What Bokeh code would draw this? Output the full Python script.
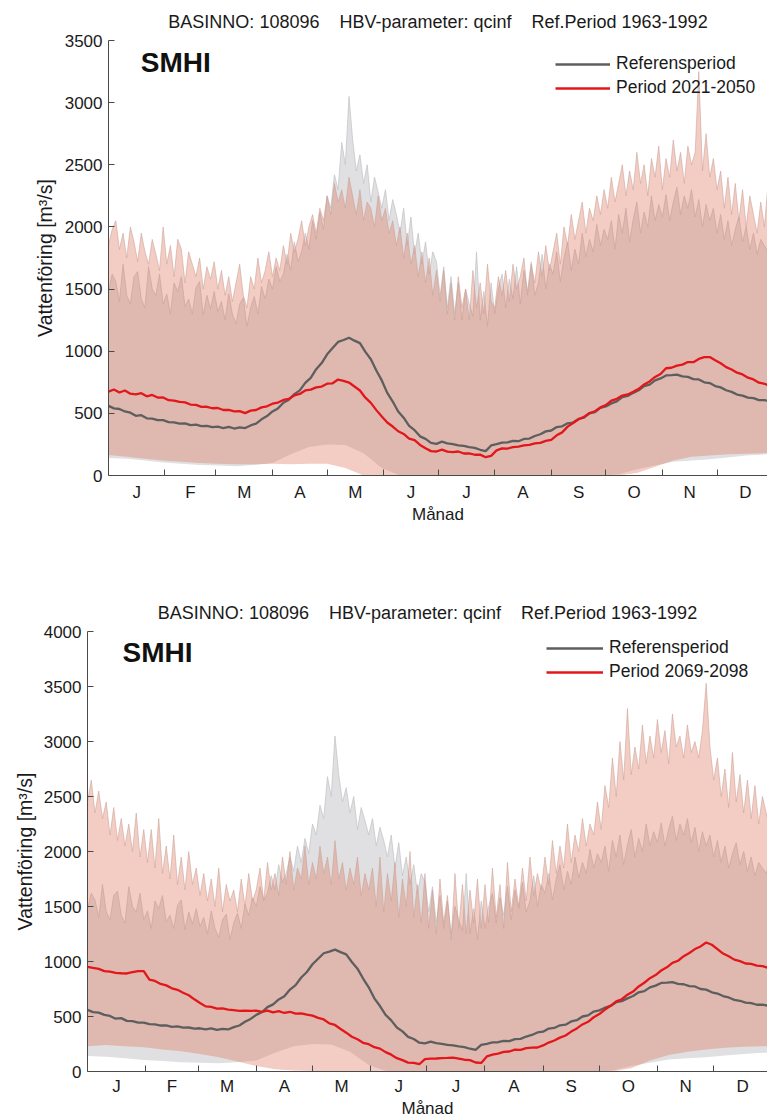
from bokeh.plotting import figure
from bokeh.models import FixedTicker, Legend, LegendItem, Label, Range1d
from bokeh.layouts import column
from bokeh.embed import file_html
from bokeh.resources import INLINE

FONT = "Liberation Sans"

# ---- time axis ---------------------------------------------------------
# period means sampled every third day of the year
day = list(range(0, 364, 3))
# high-flow envelopes sampled every second day
day_hi = list(range(0, 365, 2))
# low-flow envelopes on a coarser grid
day_low = list(range(0, 361, 10)) + [365]

month_mid = [15.5, 45, 74.5, 105, 135.5, 166, 196.5, 227.5, 258, 288.5, 319, 349.5]
month_start = [31, 59, 90, 120, 151, 181, 212, 243, 273, 304, 334]
month_labels = ["J", "F", "M", "A", "M", "J", "J", "A", "S", "O", "N", "D"]

# ---- reference period 1963-1992 (m3/s) -----------------------------------
ref_mean = [
    560, 540, 535, 515, 505, 480, 485, 460, 458, 445,
    445, 430, 428, 418, 420, 405, 410, 398, 400, 390,
    393, 382, 392, 378, 388, 382, 403, 418, 452, 478,
    515, 540, 585, 610, 655, 685, 745, 785, 855, 905,
    975, 1025, 1075, 1090, 1108, 1085, 1065, 995, 935, 845,
    765, 665, 595, 515, 465, 400, 365, 315, 295, 262,
    255, 272, 258, 252, 243, 238, 228, 222, 207, 196,
    242, 252, 264, 266, 278, 276, 294, 297, 318, 332,
    355, 362, 390, 396, 420, 426, 455, 466, 500, 510,
    545, 556, 580, 596, 630, 640, 665, 686, 720, 731,
    765, 781, 805, 808, 812, 797, 793, 776, 773, 750,
    744, 720, 709, 686, 673, 651, 643, 626, 622, 607,
    607, 598,
]
ref_max = [
    # Jan
    1480, 1620, 1560, 1400, 1700, 1450, 1380, 1600, 1640, 1420, 1350, 1680, 1500, 1450, 1620, 1380,
    # Feb
    1460, 1300, 1550, 1480, 1600, 1360, 1420, 1300, 1510, 1560, 1290, 1450, 1340, 1480,
    # Mar
    1320, 1400, 1250, 1460, 1300, 1220, 1380, 1430, 1200, 1350, 1440, 1300, 1520, 1420, 1580,
    # Apr
    1500, 1680, 1560, 1620, 1780, 1650, 1880, 1720, 1800, 1950, 1820, 2050, 1900, 2120, 1980,
    # May
    2250, 2150, 2420, 2300, 2680, 2500, 3050, 2700, 2450, 2580, 2350, 2500, 2200, 2400, 2280, 2150,
    # Jun
    2300, 2050, 2220, 2100, 1950, 2150, 1850, 2080, 1780, 1950, 1700, 1880, 1620, 1800, 1720,
    # Jul
    1450, 1680, 1350, 1600, 1300, 1550, 1250, 1500, 1380, 1280, 1800, 1250, 1480, 1200, 1550,
    # Aug
    1300, 1500, 1620, 1350, 1580, 1420, 1680, 1380, 1650, 1480, 1720, 1450, 1550, 1780, 1500, 1700,
    # Sep
    1620, 1800, 1560, 1750, 1880, 1650, 1820, 1700, 1950, 1760, 1900, 1800, 2020, 1850, 1980,
    # Oct
    1900, 2050, 1820, 2100, 1950, 2150, 1880, 2060, 2200, 1950, 2120, 2000, 2250, 2050, 2180,
    # Nov
    2080, 2260, 2050, 2200, 2320, 2100, 2250, 2150, 2300, 2080, 2220, 2000, 2180, 2050, 2150,
    # Dec
    1950, 2100, 1900, 2050, 1850, 1980, 2080, 1880, 2000, 1820, 1950, 1780, 1900, 1850, 1800, 1920,
]
ref_min = [
    140, 135, 120, 105, 95, 85, 80, 75, 85, 100,
    170, 230, 250, 245, 180, 60, 0, 0, 0, 0,
    0, 0, 0, 0, 0, 0, 0, 0, 10, 50,
    80, 110, 120, 130, 145, 160, 170, 170,
]

# ---- scenario period 2021-2050 ------------------------------------------
p2050_mean = [
    675, 692, 668, 684, 658, 653, 662, 637, 648, 627,
    628, 606, 603, 592, 588, 571, 568, 552, 553, 541,
    543, 527, 528, 516, 518, 502, 522, 527, 548, 557,
    578, 587, 608, 617, 644, 656, 684, 691, 709, 716,
    739, 742, 772, 762, 748, 716, 684, 626, 584, 526,
    474, 426, 394, 356, 334, 296, 284, 246, 219, 196,
    193, 208, 192, 188, 193, 177, 178, 167, 168, 147,
    158, 202, 218, 217, 228, 232, 243, 247, 258, 262,
    278, 287, 323, 347, 393, 422, 453, 472, 503, 517,
    548, 567, 603, 617, 643, 652, 673, 697, 733, 757,
    793, 817, 863, 867, 884, 892, 913, 912, 938, 952,
    953, 927, 903, 872, 853, 827, 813, 787, 773, 747,
    738, 722,
]
p2050_max = [
    # Jan
    1850, 1980, 2050, 1820, 1950, 1750, 2000, 1880, 1720, 1950, 1800, 1700, 1900, 1780, 1650, 2000,
    # Feb
    1700, 1850, 1600, 1900, 1820, 1550, 1800, 1700, 1600, 1750, 1500, 1680, 1580, 1720,
    # Mar
    1500, 1650, 1450, 1600, 1400, 1550, 1700, 1450, 1350, 1600, 1500, 1750, 1550, 1650, 1800,
    # Apr
    1600, 1750, 1650, 1850, 1700, 1950, 1800, 1900, 2050, 1850, 2000, 2100, 1950, 2150, 2050,
    # May
    2250, 2100, 2350, 2200, 2300, 2150, 2400, 2250, 2100, 2300, 2050, 2200, 2150, 2000, 2250, 2050,
    # Jun
    2150, 1950, 2050, 1850, 2000, 1750, 1950, 1700, 1850, 1600, 1800, 1550, 1750, 1450, 1650,
    # Jul
    1400, 1650, 1300, 1550, 1250, 1600, 1350, 1500, 1250, 1650, 1350, 1550, 1300, 1700, 1400,
    # Aug
    1350, 1600, 1450, 1650, 1400, 1700, 1500, 1600, 1750, 1450, 1700, 1550, 1800, 1600, 1850, 1650,
    # Sep
    1800, 1950, 1700, 2000, 1850, 2100, 1900, 2050, 2200, 1950, 2150, 2050, 2250, 2100, 2300,
    # Oct
    2150, 2400, 2200, 2350, 2500, 2250, 2450, 2300, 2600, 2350, 2500, 2250, 2550, 2400, 2650,
    # Nov
    2300, 2550, 2400, 2700, 2450, 2600, 2350, 2650, 2500, 2600, 3250, 2450, 2750, 2400, 2550,
    # Dec
    2300, 2450, 2150, 2400, 2100, 2350, 2050, 2300, 2000, 2250, 2100, 1950, 2200, 2000, 2350, 2050,
]
p2050_min = [
    165, 150, 135, 120, 110, 100, 95, 90, 90, 95,
    90, 95, 95, 60, 0, 0, 0, 0, 0, 0,
    0, 0, 0, 0, 0, 0, 0, 0, 0, 20,
    70, 120, 150, 160, 170, 175, 180, 180,
]

# ---- scenario period 2069-2098 ------------------------------------------
p2098_mean = [
    952, 942, 933, 912, 908, 896, 893, 891, 903, 912,
    913, 836, 823, 796, 783, 756, 743, 716, 693, 656,
    623, 592, 588, 572, 573, 562, 558, 552, 553, 551,
    553, 542, 553, 537, 548, 532, 543, 527, 528, 517,
    508, 487, 473, 437, 423, 386, 353, 316, 293, 261,
    248, 221, 208, 176, 153, 121, 103, 81, 78, 66,
    113, 117, 118, 122, 123, 127, 118, 107, 103, 82,
    78, 137, 153, 162, 178, 182, 198, 197, 213, 217,
    218, 237, 263, 282, 308, 327, 363, 392, 428, 452,
    493, 522, 563, 597, 638, 657, 698, 727, 773, 807,
    848, 877, 918, 947, 988, 1007, 1048, 1077, 1113, 1137,
    1173, 1152, 1113, 1072, 1048, 1017, 1003, 982, 978, 962,
    958, 942,
]
p2098_max = [
    # Jan
    2450, 2650, 2350, 2550, 2300, 2450, 2150, 2400, 2100, 2300, 2050, 2250, 2000, 2350, 1950, 2200,
    # Feb
    1900, 2200, 1850, 2300, 1800, 2050, 1750, 2150, 1700, 1950, 1650, 2000, 1700, 1850,
    # Mar
    1600, 1800, 1550, 1750, 1500, 1850, 1450, 1700, 1550, 1650, 1450, 1750, 1500, 1800, 1550,
    # Apr
    1650, 1850, 1550, 1900, 1650, 1800, 1600, 1950, 1700, 2000, 1650, 1850, 1750, 2050, 1700,
    # May
    1900, 1750, 2050, 1800, 1950, 1700, 2100, 1750, 1900, 1650, 1850, 1700, 1950, 1600, 1800, 1650,
    # Jun
    1850, 1500, 1950, 1450, 1800, 1550, 1900, 1400, 1750, 1500, 2000, 1400, 1700, 1350, 1800,
    # Jul
    1300, 1650, 1250, 1750, 1350, 1600, 1200, 1800, 1300, 1700, 1250, 1650, 1350, 1750, 1300,
    # Aug
    1700, 1350, 1850, 1400, 1700, 1300, 1900, 1450, 1750, 1500, 1850, 1550, 1950, 1600, 1800, 1650,
    # Sep
    1950, 1700, 2100, 1800, 2050, 1850, 2250, 1900, 2150, 2000, 2300, 2050, 2250, 2150, 2450,
    # Oct
    2200, 2600, 2400, 2850, 2500, 3000, 2650, 3300, 2700, 2950, 2750, 3150, 2800, 3050, 2850,
    # Nov
    3200, 2900, 3100, 2800, 3250, 2950, 3050, 2850, 3150, 2900, 3000, 2850, 3100, 3530, 2950,
    # Dec
    2650, 2850, 2500, 2750, 2400, 2900, 2450, 2700, 2350, 2650, 2300, 2600, 2250, 2500, 2350, 2200,
]
p2098_min = [
    230, 240, 230, 220, 200, 185, 160, 130, 90, 50,
    20, 10, 5, 0, 0, 0, 0, 0, 0, 0,
    0, 0, 0, 0, 0, 0, 0, 0, 0, 30,
    100, 150, 180, 200, 215, 225, 230, 230,
]

for s in (ref_mean, p2050_mean, p2098_mean):
    assert len(s) == len(day), len(s)
for s in (ref_max, p2050_max, p2098_max):
    assert len(s) == len(day_hi), len(s)
for s in (ref_min, p2050_min, p2098_min):
    assert len(s) == len(day_low), len(s)

GAP = "\u00a0\u00a0\u00a0 "
TITLE = "BASINNO: 108096" + GAP + "HBV-parameter: qcinf" + GAP + "Ref.Period 1963-1992"

GREY_FILL = "#e0e0e2"
SALMON_FILL = "#dc6f53"
GREY_LINE = "#5e5e5e"
RED_LINE = "#e3161b"
TEXT = "#1a1a1a"
AXIS = "#4a4a4a"


def envelope(hi, lo):
    """Closed polygon: upper envelope forward, lower envelope backward."""
    return day_hi + day_low[::-1], hi + lo[::-1]


def panel(fut_mean, fut_max, fut_min, fut_label, ymax, x_end, border_left,
          height, border_top, border_bottom, legend_xy, glyph_w, logo_xy,
          label_standoff, tick_standoff):
    p = figure(width=767, height=height,
               x_range=Range1d(0, x_end), y_range=Range1d(0, ymax),
               output_backend="svg", toolbar_location=None,
               min_border_left=border_left, min_border_right=0,
               min_border_top=border_top, min_border_bottom=border_bottom)
    if "frame_align" in p.properties():
        p.frame_align = False
    p.background_fill_color = "white"
    p.border_fill_color = "white"
    p.outline_line_color = None
    p.xgrid.visible = False
    p.ygrid.visible = False

    # envelopes
    xs, ys = envelope(ref_max, ref_min)
    p.patch(xs, ys, fill_color=GREY_FILL, line_color=None)
    p.line(day_hi, ref_max, line_color="#c2c2c4", line_width=0.7)
    xs, ys = envelope(fut_max, fut_min)
    p.patch(xs, ys, fill_color=SALMON_FILL, fill_alpha=0.35, line_color=None)
    p.line(day_hi, fut_max, line_color="#c9a096", line_width=0.7, line_alpha=0.8)

    # period means
    r_ref = p.line(day, ref_mean, line_color=GREY_LINE, line_width=2.3)
    r_fut = p.line(day, fut_mean, line_color=RED_LINE, line_width=2.3)

    # title
    p.title.text = TITLE
    p.title.align = "center"
    p.title.text_font = FONT
    p.title.text_font_size = "18px"
    p.title.text_font_style = "normal"
    p.title.text_color = TEXT
    p.title.standoff = 17

    # x axis: month names centred, ticks at month boundaries
    xa = p.xaxis[0]
    xa.ticker = FixedTicker(ticks=month_mid, minor_ticks=month_start)
    xa.major_label_overrides = dict(zip(month_mid, month_labels))
    xa.major_tick_in = 0
    xa.major_tick_out = 0
    xa.minor_tick_in = 6
    xa.minor_tick_out = 0
    xa.minor_tick_line_color = AXIS
    xa.axis_line_color = AXIS
    xa.major_label_text_font = FONT
    xa.major_label_text_font_size = "17px"
    xa.major_label_text_color = TEXT
    xa.major_label_standoff = tick_standoff
    xa.axis_label = "Månad"
    xa.axis_label_text_font = FONT
    xa.axis_label_text_font_size = "17px"
    xa.axis_label_text_font_style = "normal"
    xa.axis_label_text_color = TEXT
    xa.axis_label_standoff = 0

    # y axis
    ya = p.yaxis[0]
    ya.ticker = FixedTicker(ticks=list(range(0, ymax + 1, 500)))
    ya.major_tick_in = 6
    ya.major_tick_out = 0
    ya.major_tick_line_color = AXIS
    ya.minor_tick_in = 0
    ya.minor_tick_out = 0
    ya.axis_line_color = AXIS
    ya.major_label_text_font = FONT
    ya.major_label_text_font_size = "17px"
    ya.major_label_text_color = TEXT
    ya.major_label_standoff = 6
    ya.axis_label = "Vattenföring [m³/s]"
    ya.axis_label_text_font = FONT
    ya.axis_label_text_font_size = "19.5px"
    ya.axis_label_text_font_style = "normal"
    ya.axis_label_text_color = TEXT
    ya.axis_label_standoff = label_standoff

    # legend
    legend = Legend(
        items=[LegendItem(label="Referensperiod", renderers=[r_ref]),
               LegendItem(label=fut_label, renderers=[r_fut])],
        location=legend_xy, padding=0, spacing=3, margin=0,
        glyph_width=glyph_w, glyph_height=20, label_height=20,
        label_standoff=6, label_text_font=FONT,
        label_text_font_size="17.5px", label_text_color=TEXT,
        border_line_alpha=0, background_fill_alpha=0)
    p.add_layout(legend)

    # logo
    p.add_layout(Label(x=logo_xy[0], y=logo_xy[1], text="SMHI",
                       text_font=FONT, text_font_style="bold",
                       text_font_size="28px", text_color="#111111",
                       text_baseline="alphabetic"))
    return p


p1 = panel(p2050_mean, p2050_max, p2050_min, "Period 2021-2050",
           ymax=3500, x_end=361.7, border_left=108,
           height=557, border_top=40, border_bottom=82,
           legend_xy=(447, 377), glyph_w=55, logo_xy=(17.7, 3320),
           label_standoff=6, tick_standoff=7)
p2 = panel(p2098_mean, p2098_max, p2098_min, "Period 2069-2098",
           ymax=4000, x_end=362.7, border_left=87,
           height=563, border_top=74, border_bottom=46,
           legend_xy=(459, 389), glyph_w=57, logo_xy=(18.7, 3810),
           label_standoff=5, tick_standoff=5)

layout = column(p1, p2)
open("out.html", "w").write(file_html(layout, INLINE))
